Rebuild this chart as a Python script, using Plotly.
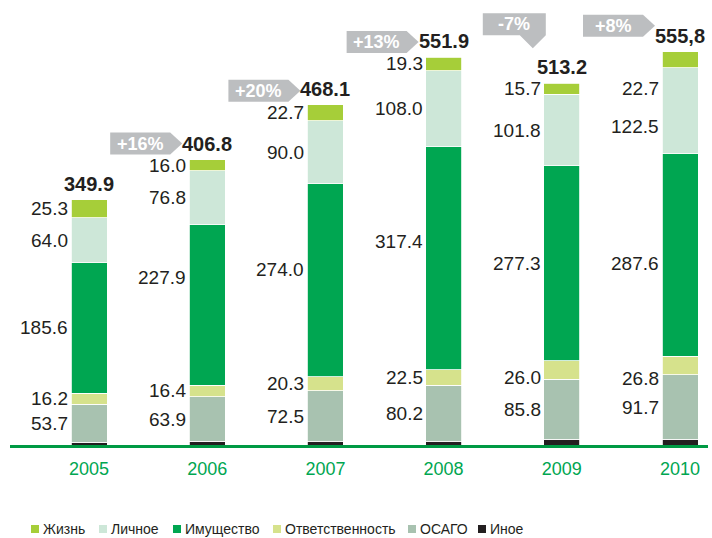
import plotly.graph_objects as go

# ---------------- data ----------------
years = ["2005", "2006", "2007", "2008", "2009", "2010"]
totals = ["349.9", "406.8", "468.1", "551.9", "513.2", "555,8"]
growth = [None, "+16%", "+20%", "+13%", "-7%", "+8%"]

inoe = [4.0, 5.0, 4.5, 4.5, 8.0, 8.0]
osago = [53.7, 63.9, 72.5, 80.2, 85.8, 91.7]
otvetstv = [16.2, 16.4, 20.3, 22.5, 26.0, 26.8]
imush = [185.6, 227.9, 274.0, 317.4, 277.3, 287.6]
lichnoe = [64.0, 76.8, 90.0, 108.0, 101.8, 122.5]
zhizn = [25.3, 16.0, 22.7, 19.3, 15.7, 22.7]

series_names = ["Иное", "ОСАГО", "Ответственность", "Имущество", "Личное", "Жизнь"]
series_vals = [inoe, osago, otvetstv, imush, lichnoe, zhizn]

# ---------------- style ----------------
COLORS = {
    "Жизнь": "#A6CE39",
    "Личное": "#CDE7D8",
    "Имущество": "#00A651",
    "Ответственность": "#D6E28C",
    "ОСАГО": "#A8C2B0",
    "Иное": "#231F20",
}
LABELED = {"ОСАГО", "Ответственность", "Имущество", "Личное", "Жизнь"}
# manual label nudges (px, positive = down), as in the original
LABEL_NUDGE = {
    (1, "Имущество"): -27, (2, "Имущество"): -11, (3, "Имущество"): -17,
    (4, "Ответственность"): 8,
    (5, "Жизнь"): 29, (5, "Личное"): 16, (5, "Имущество"): 9, (5, "Ответственность"): 13,
}
ARROW_LIFT = [0, 1, -1, 0, 44, 11]

FONT = "Liberation Sans, Arial, Helvetica, sans-serif"
TXT = "#231F20"
GREEN = "#00A651"
AXIS_GREEN = "#009A44"
ARROW_GRAY = "#BCBEC0"

W, H = 712, 538
MT, MB = 0, 89
PLOT_BOTTOM = H - MB          # px of plot-area bottom
BASE_PX = 445                 # px of the zero line
PX_X = 118.2                  # px per category
X0_PX = 89                    # px of first bar centre
PX_Y = 0.703                  # px per data unit
plot_h = H - MT - MB
x_range = [-X0_PX / PX_X, (W - X0_PX) / PX_X]
y_range = [-(PLOT_BOTTOM - BASE_PX) / PX_Y, (BASE_PX - MT) / PX_Y]
BAR_W = 36 / PX_X


def py_paper(py):
    return (PLOT_BOTTOM - py) / plot_h


xs = list(range(len(years)))
fig = go.Figure()
for name, vals in zip(series_names, series_vals):
    fig.add_trace(go.Bar(
        x=xs, y=vals, name=name, width=BAR_W,
        marker=dict(color=COLORS[name], line=dict(color="white", width=0.8)),
        showlegend=False,
    ))

annotations = []
shapes = []

# segment value labels
cum = [0.0] * len(years)
for name, vals in zip(series_names, series_vals):
    for i, v in enumerate(vals):
        if name in LABELED:
            annotations.append(dict(
                x=i - BAR_W / 2, y=cum[i] + v / 2, xref="x", yref="y",
                text=f"{v:.1f}", showarrow=False, xanchor="right", yanchor="middle",
                xshift=-1, yshift=-LABEL_NUDGE.get((i, name), 0),
                font=dict(family=FONT, size=19, color=TXT),
            ))
        cum[i] += v
tops = cum[:]

# totals
for i, t in enumerate(totals):
    annotations.append(dict(
        x=i, y=tops[i], xref="x", yref="y", text=f"<b>{t}</b>", showarrow=False,
        xanchor="center", yanchor="bottom", yshift=3,
        font=dict(family=FONT, size=20, color=TXT),
    ))

# growth arrows
hh = 11 / PX_Y
for i, g in enumerate(growth):
    if g is None:
        continue
    cy = tops[i] + (15 + ARROW_LIFT[i]) / PX_Y
    if g.startswith("-"):
        right = i - 16 / PX_X
        left = right - 63 / PX_X
        b0 = right - 26 / PX_X
        apex = right - 13 / PX_X
        bot = cy - hh
        path = (f"M{left},{cy + hh} L{right},{cy + hh} L{right},{bot} "
                f"L{apex},{bot - 13 / PX_Y} L{b0},{bot} L{left},{bot} Z")
        tx = (left + right) / 2
    else:
        tip = i - 25 / PX_X
        rr = tip - 12 / PX_X
        left = tip - 72 / PX_X
        path = (f"M{left},{cy - hh} L{rr},{cy - hh} L{tip},{cy} "
                f"L{rr},{cy + hh} L{left},{cy + hh} Z")
        tx = (left + rr) / 2
    shapes.append(dict(type="path", path=path, xref="x", yref="y",
                       fillcolor=ARROW_GRAY, line=dict(width=0), layer="above"))
    annotations.append(dict(
        x=tx, y=cy, xref="x", yref="y", text=f"<b>{g}</b>", showarrow=False,
        xanchor="center", yanchor="middle",
        font=dict(family=FONT, size=18, color="white"),
    ))

# baseline
shapes.append(dict(type="line", xref="paper", yref="y", x0=10 / W, x1=708 / W,
                   y0=-1.5 / PX_Y, y1=-1.5 / PX_Y,
                   line=dict(color=AXIS_GREEN, width=3), layer="above"))

# manual legend
legend_order = ["Жизнь", "Личное", "Имущество", "Ответственность", "ОСАГО", "Иное"]
LEGEND_X_PX = [31, 99, 173, 273, 408, 478]
LEG_Y = 529
for name, lx in zip(legend_order, LEGEND_X_PX):
    shapes.append(dict(type="rect", xref="paper", yref="paper",
                       x0=lx / W, x1=(lx + 8) / W,
                       y0=py_paper(LEG_Y - 4), y1=py_paper(LEG_Y + 4),
                       fillcolor=COLORS[name], line=dict(width=0)))
    annotations.append(dict(
        x=(lx + 10) / W, y=py_paper(LEG_Y), xref="paper", yref="paper", text=name,
        showarrow=False, xanchor="left", yanchor="middle",
        font=dict(family=FONT, size=14, color=TXT),
    ))

fig.update_layout(
    barmode="stack",
    width=W, height=H,
    margin=dict(l=0, r=0, t=MT, b=MB, pad=0),
    paper_bgcolor="white", plot_bgcolor="white",
    font=dict(family=FONT, color=TXT),
    xaxis=dict(range=x_range, tickvals=xs, ticktext=years, showgrid=False,
               zeroline=False, showline=False, ticks="outside", ticklen=3,
               tickcolor="rgba(0,0,0,0)",
               tickfont=dict(family=FONT, size=18, color=GREEN), fixedrange=True),
    yaxis=dict(range=y_range, visible=False, showgrid=False, zeroline=False,
               fixedrange=True),
    annotations=annotations,
    shapes=shapes,
    showlegend=False,
)

fig.write_html(
    "out.html",
    config={"displayModeBar": False},
    post_script="document.body.style.margin='0';document.body.style.overflow='hidden';",
)
